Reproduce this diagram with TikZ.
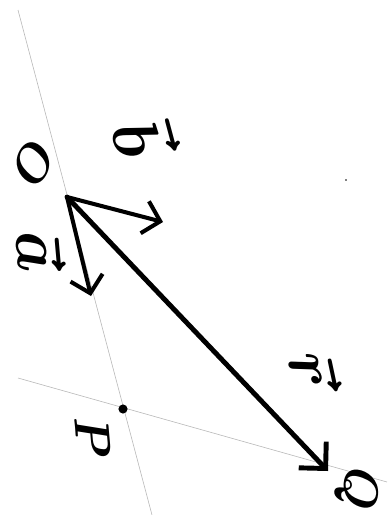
\documentclass[tikz,border=0pt]{standalone}
\usepackage{amsmath,bm}
\usepackage{tikz}
\usetikzlibrary{arrows.meta}
\usetikzlibrary{positioning}

\tikzset{
  guide/.style={gray!55, line width=0.35pt},
  longvec/.style={line width=2.8pt, line cap=round, -{Straight Barb[length=3.8mm, width=7.6mm]}},
  shortvec/.style={line width=2.3pt, line cap=round, -{Straight Barb[length=3.2mm, width=6.6mm]}},
  handlabel/.style={font=\Huge, scale=1.12, inner sep=0pt},
  veclabel/.style={font=\Huge, scale=1.5, inner sep=0pt},
}

\begin{document}
\begin{tikzpicture}[x=0.02cm, y=-0.02cm]
    \useasboundingbox (0,0) rectangle (387,515);

    % points of the figure
    \coordinate (O) at (67,197);
    \coordinate (P) at (123,409);
    \coordinate (Q) at (328,471);
    \coordinate (A) at (91,296);
    \coordinate (B) at (163,222);

    % faint lines through O and P, and through P and Q
    \coordinate (lineOa) at (18,10);
    \coordinate (lineOb) at (152,515);
    \coordinate (linePa) at (18,378);
    \coordinate (linePb) at (387,482);
    \draw[guide] (lineOa) -- (lineOb);
    \draw[guide] (linePa) -- (linePb);

    % vectors
    \draw[longvec] (O) -- (Q);
    \draw[shortvec] (O) -- (A);
    \draw[shortvec] (O) -- (B);
    \fill (P) circle[radius=2.6pt];
    \fill (346,180) circle[radius=0.5pt];

    % labels
    \node[handlabel, rotate=-120] (labO) at (33,163) {$\bm{O}$};
    \node[handlabel, rotate=-85] (labP) at (93,438) {$\bm{P}$};
    \node[handlabel, rotate=-95] (labQ) at (357,489) {$\bm{Q}$};
    \node[veclabel, rotate=-85] (laba) at (41,251) {$\bm{\vec{a}}$};
    \node[veclabel, rotate=-75] (labb) at (146,137) {$\bm{\vec{b}}$};
    \node[veclabel, rotate=-78] (labr) at (315,370) {$\bm{\vec{r}}$};
\end{tikzpicture}
\end{document}
